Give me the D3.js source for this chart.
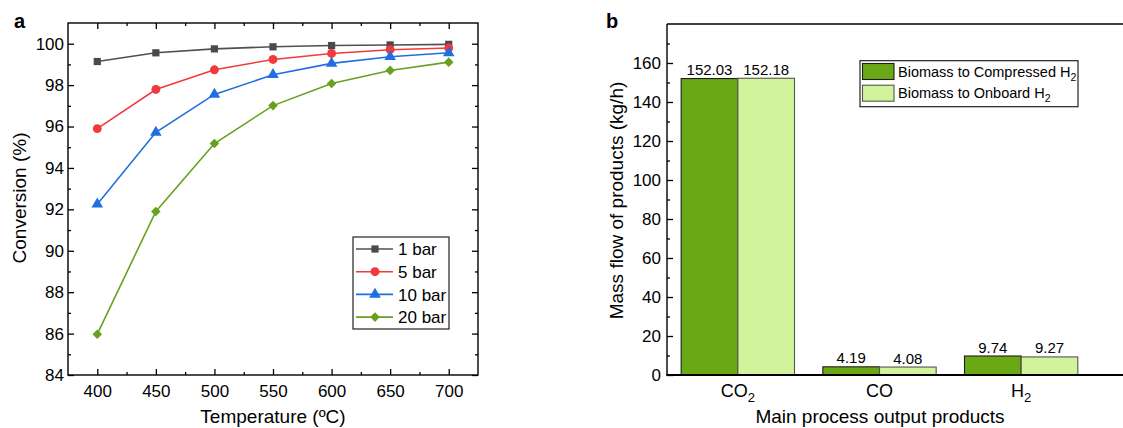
<!DOCTYPE html>
<html><head><meta charset="utf-8">
<script src="https://cdn.jsdelivr.net/npm/d3@7"></script>
<style>body{margin:0;background:#fff} svg{display:block} text{font-family:"Liberation Sans",Arial,sans-serif;fill:#000}</style>
</head><body><svg id="c" width="1123" height="428"></svg>
<script>
// ---- Data: panel a ----
const temperatures = [400, 450, 500, 550, 600, 650, 700];
const seriesNames = ["1 bar", "5 bar", "10 bar", "20 bar"];
const conv1 = [99.14, 99.56, 99.75, 99.85, 99.91, 99.94, 99.97];
const conv5 = [95.90, 97.79, 98.74, 99.24, 99.53, 99.71, 99.79];
const conv10 = [92.25, 95.72, 97.55, 98.50, 99.05, 99.37, 99.56];
const conv20 = [85.97, 91.90, 95.18, 97.01, 98.08, 98.71, 99.11];
const xTicksA = [400, 450, 500, 550, 600, 650, 700];
const xMinorA = [425, 475, 525, 575, 625, 675];
const yTicksA = [84, 86, 88, 90, 92, 94, 96, 98, 100];
const yMinorA = [85, 87, 89, 91, 93, 95, 97, 99];
// ---- Data: panel b ----
const products = ["CO2", "CO", "H2"];
const scenarioNames = ["Biomass to Compressed H2", "Biomass to Onboard H2"];
const compressed = [152.03, 4.19, 9.74];
const onboard = [152.18, 4.08, 9.27];
const yTicksB = [0, 20, 40, 60, 80, 100, 120, 140, 160];
const yMinorB = [10, 30, 50, 70, 90, 110, 130, 150, 170];

const svg = d3.select("#c");
const FONT = '"Liberation Sans",Arial,sans-serif';

// ================= Panel a =================
const A = {l: 68, t: 23, r: 478, b: 375};
const xA = d3.scaleLinear().domain([375, 725]).range([A.l, A.r]);
const yA = d3.scaleLinear().domain([84, 101]).range([A.b, A.t]);
const ga = svg.append("g");

function styleAxis(g, fs) {
  g.select(".domain").remove();
  g.selectAll("line").attr("stroke", "#000").attr("stroke-width", 1.3);
  g.selectAll("text").style("font-family", FONT).style("font-size", fs + "px").attr("fill", "#000");
}
ga.append("g").attr("transform", `translate(0,${A.b})`)
  .call(d3.axisBottom(xA).tickValues(xTicksA).tickSize(-6).tickPadding(10).tickFormat(d3.format("d")))
  .call(g => styleAxis(g, 17));
ga.append("g").attr("transform", `translate(0,${A.b})`)
  .call(d3.axisBottom(xA).tickValues(xMinorA).tickSize(-3).tickFormat(""))
  .call(g => styleAxis(g, 17));
ga.append("g").attr("transform", `translate(0,${A.t})`)
  .call(d3.axisTop(xA).tickValues(xTicksA).tickSize(-6).tickFormat(""))
  .call(g => styleAxis(g, 17));
ga.append("g").attr("transform", `translate(0,${A.t})`)
  .call(d3.axisTop(xA).tickValues(xMinorA).tickSize(-3).tickFormat(""))
  .call(g => styleAxis(g, 17));
ga.append("g").attr("transform", `translate(${A.l},0)`)
  .call(d3.axisLeft(yA).tickValues(yTicksA).tickSize(-6).tickPadding(4).tickFormat(d3.format("d")))
  .call(g => styleAxis(g, 17));
ga.append("g").attr("transform", `translate(${A.l},0)`)
  .call(d3.axisLeft(yA).tickValues(yMinorA).tickSize(-3).tickFormat(""))
  .call(g => styleAxis(g, 17));
ga.append("g").attr("transform", `translate(${A.r},0)`)
  .call(d3.axisRight(yA).tickValues(yTicksA).tickSize(-6).tickFormat(""))
  .call(g => styleAxis(g, 17));
ga.append("g").attr("transform", `translate(${A.r},0)`)
  .call(d3.axisRight(yA).tickValues(yMinorA).tickSize(-3).tickFormat(""))
  .call(g => styleAxis(g, 17));
ga.append("rect").attr("x", A.l).attr("y", A.t).attr("width", A.r - A.l).attr("height", A.b - A.t)
  .attr("fill", "none").attr("stroke", "#000").attr("stroke-width", 1.4);

const seriesA = [
  {name: seriesNames[0], vals: conv1, color: "#505050", fill: "#4a4a4a", sym: "square"},
  {name: seriesNames[1], vals: conv5, color: "#f2393d", fill: "#f2393d", sym: "circle"},
  {name: seriesNames[2], vals: conv10, color: "#1f6fe0", fill: "#1f6fe0", sym: "triangle"},
  {name: seriesNames[3], vals: conv20, color: "#67a11f", fill: "#67a11f", sym: "diamond"}
];
function symPath(t) {
  if (t === "square") return d3.symbol().type(d3.symbolSquare).size(52)();
  if (t === "circle") return d3.symbol().type(d3.symbolCircle).size(62)();
  if (t === "triangle") return d3.symbol().type(d3.symbolTriangle).size(58)();
  return d3.symbol().type(d3.symbolSquare).size(46)();
}
const line = d3.line().x((d, i) => xA(temperatures[i])).y(d => yA(d));
seriesA.forEach(s => {
  ga.append("path").datum(s.vals).attr("d", line).attr("fill", "none")
    .attr("stroke", s.color).attr("stroke-width", 1.6);
});
seriesA.forEach(s => {
  ga.selectAll(null).data(s.vals).enter().append("path")
    .attr("d", symPath(s.sym))
    .attr("transform", (d, i) => `translate(${xA(temperatures[i])},${yA(d)})` + (s.sym === "diamond" ? " rotate(45)" : ""))
    .attr("fill", s.fill);
});

// legend a
const LA = {x: 353, y: 237, w: 96, h: 92};
ga.append("rect").attr("x", LA.x).attr("y", LA.y).attr("width", LA.w).attr("height", LA.h)
  .attr("fill", "#fff").attr("stroke", "#222").attr("stroke-width", 1.2);
seriesA.forEach((s, i) => {
  const cy = 249 + i * 22.7;
  ga.append("line").attr("x1", 356).attr("x2", 393).attr("y1", cy).attr("y2", cy)
    .attr("stroke", s.color).attr("stroke-width", 1.6);
  ga.append("path").attr("d", symPath(s.sym))
    .attr("transform", `translate(375,${cy})` + (s.sym === "diamond" ? " rotate(45)" : "")).attr("fill", s.fill);
  ga.append("text").attr("x", 398).attr("y", cy + 6.2).style("font-size", "17px").text(s.name);
});

ga.append("text").attr("x", 273).attr("y", 423).attr("text-anchor", "middle").style("font-size", "19px")
  .text("Temperature (\u00BAC)");
ga.append("text").attr("transform", "translate(25.5,198) rotate(-90)").attr("text-anchor", "middle")
  .style("font-size", "19px").text("Conversion (%)");
ga.append("text").attr("x", 14).attr("y", 28).style("font-size", "20px").style("font-weight", "bold").text("a");

// ================= Panel b =================
const B = {l: 667, t: 24, r: 1140, b: 375};
const yB = d3.scaleLinear().domain([0, 180]).range([B.b, B.t]);
const x0 = d3.scaleBand().domain(products).range([667, 1092]).paddingInner(0.2).paddingOuter(0.1);
const x1 = d3.scaleBand().domain(scenarioNames).range([0, x0.bandwidth()]);
const gb = svg.append("g");
const colorsB = ["#6aa815", "#d1f39c"];
const strokesB = ["#1e1e1e", "#555"];
const valsB = [compressed, onboard];

gb.append("g").attr("transform", `translate(${B.l},0)`)
  .call(d3.axisLeft(yB).tickValues(yTicksB).tickSize(-6).tickPadding(6).tickFormat(d3.format("d")))
  .call(g => styleAxis(g, 17));
gb.append("g").attr("transform", `translate(${B.l},0)`)
  .call(d3.axisLeft(yB).tickValues(yMinorB).tickSize(-3).tickFormat(""))
  .call(g => styleAxis(g, 17));

products.forEach((p, pi) => {
  scenarioNames.forEach((s, si) => {
    const v = valsB[si][pi];
    const x = x0(p) + x1(s);
    gb.append("rect").attr("x", x).attr("y", yB(v)).attr("width", x1.bandwidth()).attr("height", yB(0) - yB(v))
      .attr("fill", colorsB[si]).attr("stroke", strokesB[si]).attr("stroke-width", 1.1);
    gb.append("text").attr("x", x + x1.bandwidth() / 2).attr("y", yB(v) - 3.5).attr("text-anchor", "middle")
      .style("font-size", "15px").text(d3.format(".2f")(v));
  });
});

// frame
gb.append("line").attr("x1", B.l).attr("x2", B.r).attr("y1", B.t).attr("y2", B.t).attr("stroke", "#000").attr("stroke-width", 1.3);
gb.append("line").attr("x1", B.l).attr("x2", B.l).attr("y1", B.t).attr("y2", B.b).attr("stroke", "#000").attr("stroke-width", 1.4);
gb.append("line").attr("x1", B.l - 0.7).attr("x2", B.r).attr("y1", B.b).attr("y2", B.b).attr("stroke", "#000").attr("stroke-width", 2);

// category labels with subscripts
const catLabels = [["CO", "2"], ["CO", ""], ["H", "2"]];
products.forEach((p, i) => {
  const t = gb.append("text").attr("x", x0(p) + x0.bandwidth() / 2).attr("y", 397).attr("text-anchor", "middle")
    .style("font-size", "18px");
  t.append("tspan").text(catLabels[i][0]);
  if (catLabels[i][1]) t.append("tspan").attr("dy", 5).style("font-size", "13px").text(catLabels[i][1]);
});

gb.append("text").attr("x", 880).attr("y", 423).attr("text-anchor", "middle").style("font-size", "19px")
  .text("Main process output products");
gb.append("text").attr("transform", "translate(623,200.5) rotate(-90)").attr("text-anchor", "middle")
  .style("font-size", "19px").text("Mass flow of products (kg/h)");
gb.append("text").attr("x", 606).attr("y", 28).style("font-size", "20px").style("font-weight", "bold").text("b");

// legend b
gb.append("rect").attr("x", 860).attr("y", 60.7).attr("width", 218).attr("height", 46)
  .attr("fill", "#fff").attr("stroke", "#222").attr("stroke-width", 1.2);
const legTexts = [["Biomass to Compressed H", "2"], ["Biomass to Onboard H", "2"]];
scenarioNames.forEach((s, i) => {
  const y = 63.5 + i * 21.7;
  gb.append("rect").attr("x", 862.5).attr("y", y).attr("width", 31.5).attr("height", 16)
    .attr("fill", colorsB[i]).attr("stroke", strokesB[i]).attr("stroke-width", 1.1);
  const t = gb.append("text").attr("x", 898).attr("y", y + 13).style("font-size", "14.5px");
  t.append("tspan").text(legTexts[i][0]);
  t.append("tspan").attr("dy", 4).style("font-size", "10.5px").text(legTexts[i][1]);
});
</script></body></html>
